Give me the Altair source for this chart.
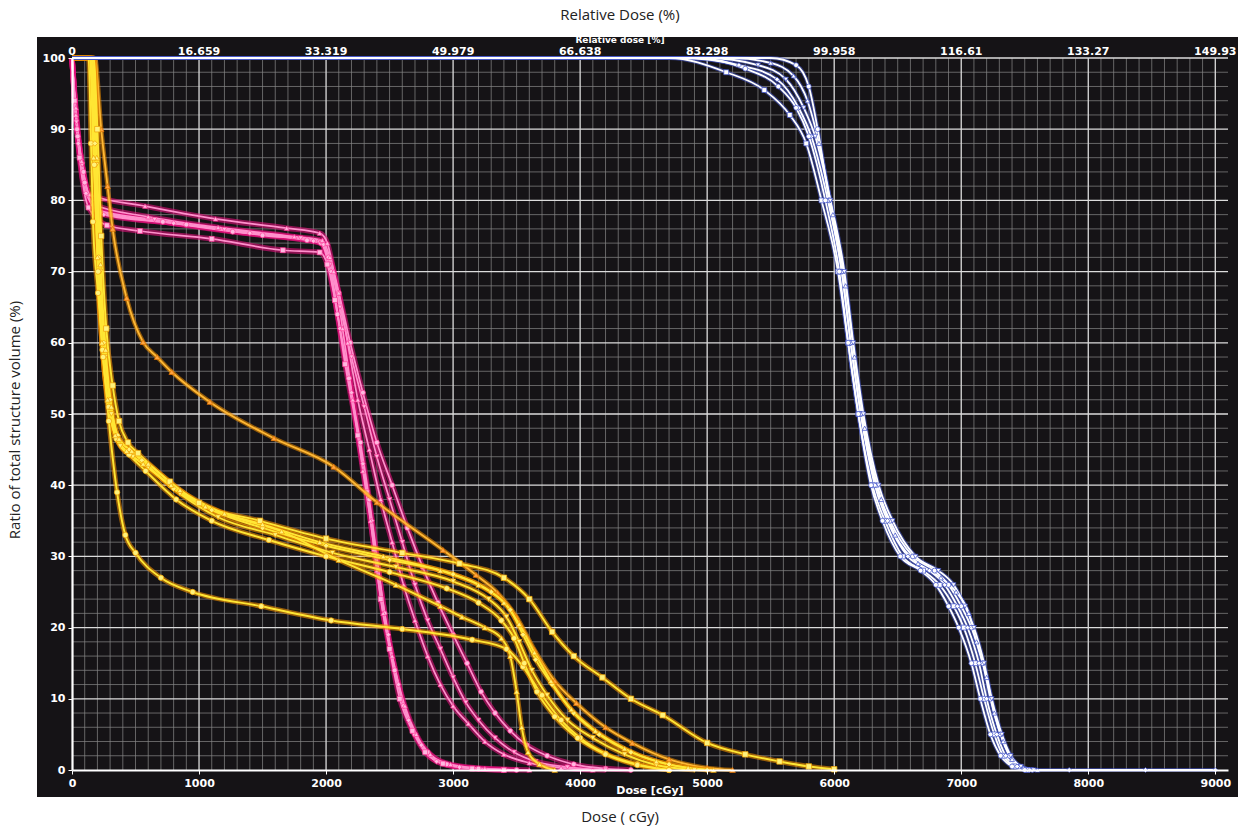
import altair as alt
import pandas as pd

# ---------------- data ----------------
x_major = [1000, 2000, 3000, 4000, 5000, 6000, 7000, 8000, 9000]
x_minor = [v for v in range(100, 9100, 100) if v % 1000 != 0]
y_major = [10, 20, 30, 40, 50, 60, 70, 80, 90, 100]
y_minor = [v for v in range(2, 100, 2) if v % 10 != 0]
top_pos = [0, 1000, 2000, 3000, 4000, 5000, 6000, 7000, 8000, 9000]
top_text = ["0", "16.659", "33.319", "49.979", "66.638", "83.298", "99.958", "116.61", "133.27", "149.93"]

# PTV curves (white)
W1_d = [0, 700, 1400, 2100, 2800, 3500, 4200, 4900, 5500, 5700, 5800, 5870, 5960, 6060, 6130, 6210, 6330, 6440, 6620, 6790, 6900, 7000, 7080, 7170, 7230, 7310, 7380, 7460, 7560]
W1_v = [100, 100, 100, 100, 100, 100, 100, 100, 100, 99, 96, 90, 80, 70, 60, 50, 40, 35, 30, 28, 26, 23, 20, 15, 10, 5, 2, 0.5, 0]
W2_d = [0, 700, 1400, 2100, 2800, 3500, 4200, 4700, 5150, 5450, 5650, 5780, 5900, 6030, 6110, 6190, 6300, 6400, 6540, 6700, 6830, 6940, 7020, 7110, 7180, 7260, 7330, 7420, 7520]
W2_v = [100, 100, 100, 100, 100, 100, 100, 100, 98, 95.5, 92, 88, 80, 70, 60, 50, 40, 35, 30, 28, 26, 23, 20, 15, 10, 5, 2, 0.5, 0]
W3_d = [0, 700, 1400, 2100, 2800, 3500, 4200, 4800, 5250, 5550, 5720, 5820, 5950, 6060, 6130, 6210, 6320, 6420, 6580, 6750, 6870, 6970, 7050, 7140, 7200, 7280, 7350, 7440, 7540, 7850, 8450, 9000]
W3_v = [100, 100, 100, 100, 100, 100, 100, 100, 99, 97, 93, 89, 80, 70, 60, 50, 40, 35, 30, 28, 26, 23, 20, 15, 10, 5, 2, 0.5, 0, 0, 0, 0]
W4_d = [0, 700, 1400, 2100, 2800, 3500, 4200, 5000, 5400, 5620, 5760, 5850, 5970, 6080, 6150, 6230, 6350, 6460, 6640, 6820, 6940, 7030, 7100, 7180, 7240, 7320, 7390, 7470, 7570]
W4_v = [100, 100, 100, 100, 100, 100, 100, 100, 99, 97, 93, 89, 80, 70, 60, 50, 40, 35, 30, 28, 26, 23, 20, 15, 10, 5, 2, 0.5, 0]
W5_d = [0, 700, 1400, 2100, 2800, 3500, 4200, 4900, 5300, 5560, 5700, 5800, 5930, 6040, 6110, 6190, 6290, 6380, 6520, 6680, 6800, 6900, 6980, 7080, 7150, 7230, 7310, 7400, 7500]
W5_v = [100, 100, 100, 100, 100, 100, 100, 100, 98.5, 96, 93, 89, 80, 70, 60, 50, 40, 35, 30, 28, 26, 23, 20, 15, 10, 5, 2, 0.5, 0]
W6_d = [0, 700, 1400, 2100, 2800, 3500, 4200, 5200, 5500, 5680, 5790, 5880, 5990, 6090, 6160, 6240, 6370, 6480, 6660, 6840, 6960, 7060, 7120, 7200, 7260, 7330, 7400, 7490, 7600]
W6_v = [100, 100, 100, 100, 100, 100, 100, 100, 99.3, 97.5, 94, 88, 78, 68, 58, 48, 38, 33, 29, 27, 25, 22, 18, 13, 8, 4, 1.5, 0.3, 0]

# Organ curves (pink)
P1_d = [0, 30, 70, 140, 575, 1130, 1690, 1950, 2010, 2060, 2130, 2210, 2290, 2350, 2400, 2450, 2520, 2620, 2710, 2820, 2980, 3250, 3600]
P1_v = [100, 92, 86, 80.8, 79.2, 77.4, 76.1, 75.4, 74, 70, 62, 52, 42, 35, 28, 22, 16, 9, 5, 2.2, 0.8, 0.2, 0]
P2_d = [0, 40, 90, 195, 715, 1265, 1850, 1960, 2020, 2090, 2180, 2270, 2340, 2400, 2460, 2540, 2610, 2700, 2800, 2950, 3200, 3500]
P2_v = [100, 90, 84, 78.6, 77, 75.6, 74.4, 74, 71, 64, 55, 46, 38, 30, 22, 14, 9, 5, 2.5, 0.8, 0.2, 0]
P3_d = [0, 20, 60, 130, 275, 535, 1100, 1660, 1950, 2010, 2070, 2150, 2250, 2320, 2380, 2430, 2500, 2580, 2680, 2780, 2920, 3150, 3400]
P3_v = [100, 94, 86, 79, 76.5, 75.7, 74.6, 73, 72.7, 71, 66, 57, 47, 39, 31, 24, 17, 10, 5.5, 2.5, 0.9, 0.2, 0]
P4_d = [0, 50, 110, 250, 800, 1400, 1900, 1980, 2040, 2110, 2200, 2290, 2360, 2420, 2490, 2570, 2650, 2750, 2870, 3050, 3400]
P4_v = [100, 88, 81, 78, 76.8, 75.4, 74.3, 73.8, 70, 62, 53, 43, 35, 27, 19, 12, 7, 3.5, 1.2, 0.4, 0]
P5_d = [0, 35, 80, 180, 650, 1200, 1800, 1960, 2030, 2110, 2200, 2300, 2400, 2500, 2600, 2700, 2800, 2900, 3000, 3100, 3200, 3330, 3480, 3650, 3900, 4200]
P5_v = [100, 91, 85, 78.8, 77.3, 75.9, 74.7, 74.2, 71, 65, 58, 51, 44, 38, 32, 26, 21, 17, 13, 9.5, 7, 4.5, 2.5, 1.2, 0.4, 0]
P6_d = [0, 45, 100, 220, 900, 1500, 1950, 2020, 2100, 2190, 2290, 2400, 2520, 2640, 2760, 2880, 3000, 3110, 3220, 3330, 3450, 3580, 3740, 3950, 4200, 4400]
P6_v = [100, 89, 82.5, 78.3, 76.6, 75.1, 74.2, 72, 67, 60, 53, 46, 40, 34, 28.5, 23.5, 19, 15, 11, 8, 5.5, 3.5, 2, 0.8, 0.2, 0]
P7_d = [0, 30, 75, 160, 600, 1150, 1750, 1970, 2030, 2100, 2170, 2250, 2340, 2430, 2520, 2610, 2700, 2800, 2900, 3000, 3120, 3250, 3400, 3600, 3850, 4100]
P7_v = [100, 93, 85.5, 79.5, 77.7, 76.2, 74.9, 74.4, 72, 67, 60, 52, 45, 38, 32, 26, 21, 16, 12, 9, 6.5, 4, 2.2, 1, 0.3, 0]

# Organ curves (yellow / orange)
Y1_d = [0, 130, 150, 165, 205, 245, 290, 355, 420, 500, 700, 950, 1490, 2040, 2600, 3150, 3420, 3550, 3700, 3850, 4000, 4200, 4450, 4700]
Y1_v = [100, 100, 88, 77, 67, 58, 49, 39, 33, 30.5, 27, 25, 23, 21, 19.8, 18.3, 17, 14.5, 10.5, 7, 4.5, 2.3, 0.8, 0]
Y2_d = [0, 180, 230, 280, 320, 430, 560, 670, 785, 1085, 1590, 2060, 2400, 2920, 3180, 3350, 3500, 3640, 3800, 3970, 4200, 4410, 4700, 5000, 5200]
Y2_v = [100, 100, 90, 82, 76, 66.3, 60.1, 58, 55.9, 51.7, 46.6, 42.6, 37.6, 30.9, 27.4, 24.9, 21.5, 16.9, 12.5, 9.4, 6, 3.8, 1.5, 0.3, 0]
Y3_d = [0, 170, 200, 230, 270, 320, 370, 440, 520, 770, 1000, 1480, 2000, 2600, 3050, 3400, 3600, 3780, 3950, 4175, 4400, 4650, 5000, 5300, 5570, 5800, 6000]
Y3_v = [100, 100, 90, 75, 62, 54, 49, 46, 44.5, 40.5, 37.5, 35, 32.5, 30.5, 29, 27, 24, 19.4, 16, 13, 10, 7.7, 3.8, 2.2, 1.2, 0.5, 0.1]
Y4_d = [0, 150, 180, 210, 250, 300, 360, 450, 550, 800, 1100, 1500, 2000, 2500, 3000, 3300, 3450, 3550, 3650, 3780, 3950, 4150, 4400, 4700, 5000]
Y4_v = [100, 100, 88, 72, 60, 52, 47, 45, 43.5, 39.5, 36.5, 34, 31.5, 29.5, 27.5, 25, 22.5, 19, 15.5, 12, 8, 5, 2.5, 0.8, 0]
Y5_d = [0, 160, 190, 220, 260, 310, 380, 480, 600, 850, 1150, 1600, 2050, 2550, 3000, 3280, 3420, 3520, 3620, 3740, 3900, 4100, 4350, 4600, 4900]
Y5_v = [100, 100, 85, 70, 58, 50, 45.5, 44, 42.5, 38.8, 35.5, 33, 30.5, 28.5, 26.5, 24, 21.5, 18, 14, 10.5, 7, 4.5, 2.2, 0.7, 0]
Y6_d = [0, 150, 175, 205, 240, 290, 350, 450, 580, 820, 1100, 1550, 2000, 2500, 2950, 3200, 3380, 3480, 3560, 3660, 3800, 3980, 4200, 4450, 4700]
Y6_v = [100, 100, 85, 70, 59, 51, 46.5, 44.3, 42, 38, 35, 32.3, 30, 27.8, 25.5, 23.5, 21, 18.5, 15, 11, 7.5, 4.5, 2.2, 0.7, 0]
Y7_d = [0, 170, 195, 225, 265, 310, 370, 470, 600, 850, 1200, 1650, 2100, 2550, 2900, 3070, 3250, 3380, 3450, 3500, 3540, 3590, 3680, 3800]
Y7_v = [100, 100, 86, 71, 59, 51, 46.5, 44.8, 43, 39.3, 36, 33.5, 29.5, 26, 23, 21.5, 20, 18.5, 16, 11, 6, 2.5, 0.8, 0]
Y8_d = [0, 140, 170, 200, 235, 280, 340, 430, 560, 780, 1050, 1500, 1950, 2450, 2900, 3200, 3400, 3520, 3640, 3770, 3930, 4120, 4350, 4600, 4850, 5050]
Y8_v = [100, 100, 86, 72, 60, 52, 47, 44.8, 43, 40, 37, 34.5, 32, 30, 28, 26, 23.5, 20.5, 16.5, 12.5, 8.5, 5.5, 3, 1.2, 0.3, 0]

curves = [
    ("W1", "white", W1_d, W1_v), ("W2", "white", W2_d, W2_v), ("W3", "white", W3_d, W3_v),
    ("W4", "white", W4_d, W4_v), ("W5", "white", W5_d, W5_v), ("W6", "white", W6_d, W6_v),
    ("P1", "pink", P1_d, P1_v), ("P2", "pink", P2_d, P2_v), ("P3", "pink", P3_d, P3_v),
    ("P4", "pink", P4_d, P4_v), ("P5", "pink", P5_d, P5_v), ("P6", "pink", P6_d, P6_v),
    ("P7", "pink", P7_d, P7_v),
    ("Y1", "yellow", Y1_d, Y1_v), ("Y2", "orange", Y2_d, Y2_v), ("Y3", "yellow", Y3_d, Y3_v),
    ("Y4", "yellow", Y4_d, Y4_v), ("Y5", "yellow", Y5_d, Y5_v), ("Y6", "yellow", Y6_d, Y6_v),
    ("Y7", "yellow", Y7_d, Y7_v), ("Y8", "yellow", Y8_d, Y8_v),
]
rows = []
for name, grp, ds, vs in curves:
    for i, (d, v) in enumerate(zip(ds, vs)):
        rows.append({"curve": name, "grp": grp, "dose": d, "vol": v, "i": i})
df = pd.DataFrame(rows)

# ---------------- layout ----------------
W, H = 1156, 712
PL, PT = 72, 58
XD = [0, 9100]
YD = [0, 100]

font_in = "DejaVu Sans"
font_out = "Open Sans"

xs = alt.Scale(domain=XD, nice=False, zero=False)
ys = alt.Scale(domain=YD, nice=False, zero=False)

ax_x = alt.Axis(values=[0] + x_major, format="d", title=None, grid=False, labelColor="white", labelFont=font_in,
                labelFontWeight="bold", labelFontSize=11, domainColor="white", domainWidth=2.2,
                tickColor="white", tickSize=4, labelPadding=3, labelFlush=False, zindex=1)
ax_y = alt.Axis(values=[0] + y_major, format="d", title=None, grid=False, labelColor="white", labelFont=font_in,
                labelFontWeight="bold", labelFontSize=11, domainColor="white", domainWidth=2.2,
                tickColor="white", tickSize=4, labelPadding=3, labelFlush=False, zindex=1)

one = pd.DataFrame({"a": [0]})

panel = alt.Chart(one).mark_rect(color="#151316").encode(
    x=alt.value(-35), x2=alt.value(1238 - PL), y=alt.value(37 - PT), y2=alt.value(797 - PT)
)

gx_minor = alt.Chart(pd.DataFrame({"g": x_minor})).mark_rule(color="#868686", strokeWidth=0.8, opacity=0.9).encode(
    x=alt.X("g:Q", scale=xs, axis=ax_x))
gy_minor = alt.Chart(pd.DataFrame({"g": y_minor})).mark_rule(color="#868686", strokeWidth=0.8, opacity=0.9).encode(
    y=alt.Y("g:Q", scale=ys, axis=ax_y))
gx_major = alt.Chart(pd.DataFrame({"g": x_major})).mark_rule(color="#dcdcdc", strokeWidth=1.3).encode(
    x=alt.X("g:Q", scale=xs, axis=ax_x))
gy_major = alt.Chart(pd.DataFrame({"g": y_major})).mark_rule(color="#dcdcdc", strokeWidth=1.3).encode(
    y=alt.Y("g:Q", scale=ys, axis=ax_y))

base = alt.Chart(df).encode(
    x=alt.X("dose:Q", scale=xs, axis=ax_x),
    y=alt.Y("vol:Q", scale=ys, axis=ax_y),
    detail="curve:N",
    order="i:Q",
)

def group_layers(grp, glow, core, glow_w, core_w, mcolor, mstroke, shapes, msize):
    sub = base.transform_filter(alt.datum.grp == grp)
    g = sub.mark_line(color=glow, strokeWidth=glow_w, opacity=0.6, interpolate="monotone")
    c = sub.mark_line(color=core, strokeWidth=core_w, interpolate="monotone")
    names = [n for n, gg, _, _ in curves if gg == grp]
    p = sub.transform_filter(alt.datum.vol < 100).mark_point(
        filled=True, size=msize, color=mcolor, stroke=mstroke, strokeWidth=0.7, opacity=1
    ).encode(shape=alt.Shape("curve:N", scale=alt.Scale(domain=names, range=shapes[:len(names)]), legend=None))
    return [g, c, p]

shapes_all = ["triangle-up", "circle", "square", "diamond", "triangle-down", "circle", "triangle-up", "square"]

lay_pink = group_layers("pink", "#e0107a", "#ff90cc", 5.5, 1.7, "#ffb8e0", "#ff3d9a", shapes_all, 24)
lay_yel = group_layers("yellow", "#f09000", "#ffe634", 5, 1.9, "#fff27a", "#f0a000", shapes_all, 30)
lay_or = group_layers("orange", "#e88a00", "#ffb834", 4.5, 1.8, "#ffa640", "#e07000", ["triangle-up"], 32)
lay_wh = group_layers("white", "#4858c8", "#ffffff", 4, 1.8, "#ffffff", "#3a4cc8", shapes_all, 24)

top_df = pd.DataFrame({"pos": top_pos, "txt": top_text})
top_labels = alt.Chart(top_df).mark_text(color="white", font=font_in, fontWeight="bold", fontSize=11,
                                         baseline="bottom").encode(
    x=alt.X("pos:Q", scale=xs, axis=ax_x), y=alt.value(-1), text="txt:N")

txt = lambda s, **kw: alt.Chart(pd.DataFrame({"t": [s]})).mark_text(**kw)

rel_small = txt("Relative dose [%]", color="white", font=font_in, fontWeight="bold", fontSize=9,
                baseline="middle").encode(x=alt.value(620 - PL), y=alt.value(40 - PT), text="t:N")
dose_small = txt("Dose [cGy]", color="white", font=font_in, fontWeight="bold", fontSize=11,
                 baseline="middle").encode(x=alt.value(650 - PL), y=alt.value(791 - PT), text="t:N")

t_top = txt("Relative Dose (%)", color="#222222", font=font_out, fontSize=15, baseline="middle").encode(
    x=alt.value(620 - PL), y=alt.value(15 - PT), text="t:N")
t_bot = txt("Dose ( cGy)", color="#222222", font=font_out, fontSize=15, baseline="middle").encode(
    x=alt.value(620 - PL), y=alt.value(817 - PT), text="t:N")
t_left = txt("Ratio of total structure volume (%)", color="#222222", font=font_out, fontSize=15,
             baseline="middle", angle=270).encode(x=alt.value(15 - PL), y=alt.value(420 - PT), text="t:N")

chart = alt.layer(
    panel, gx_minor, gy_minor, gx_major, gy_major,
    *lay_pink, *lay_or, *lay_yel, *lay_wh,
    top_labels, rel_small, dose_small, t_top, t_bot, t_left,
).properties(
    width=W, height=H, autosize="none",
    padding={"left": PL, "top": PT, "right": 1238 - PL - W, "bottom": 828 - PT - H},
    background="white",
).configure_view(strokeWidth=0, fill=None)

chart.save("out.html", embed_options={"renderer": "svg", "actions": False})
